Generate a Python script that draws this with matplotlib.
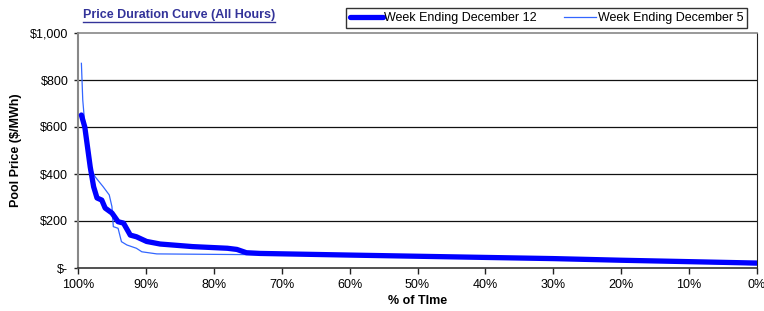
import matplotlib
matplotlib.use("Agg")
import matplotlib.pyplot as plt
from matplotlib.lines import Line2D
from matplotlib.ticker import FuncFormatter

plt.rcParams["font.family"] = ["Liberation Sans", "DejaVu Sans"]

# % of time (duration) and pool price ($/MWh)
pct_dec12 = [99.5, 99.0, 98.2, 97.7, 97.2, 96.5, 96.0, 95.0, 94.1, 93.3, 92.3, 91.4,
             89.9, 87.9, 83.1, 78.0, 76.6, 75.2, 73.2, 60, 50, 40, 30, 20, 10, 0]
price_dec12 = [651, 600, 430, 346, 298, 289, 255, 234, 197, 191, 140, 133,
               113, 102, 91, 84, 79, 65, 62, 55, 50, 45, 40, 33, 27, 21]

pct_dec5 = [99.5, 99.3, 98.8, 98.2, 97.5, 96.3, 95.4, 95.0, 94.8, 94.1, 93.6, 92.8,
            91.4, 90.6, 88.4, 80, 75, 60, 50, 40, 30, 20, 10, 0]
price_dec5 = [871, 715, 545, 431, 389, 346, 311, 261, 176, 169, 112, 98,
              84, 69, 60, 58, 57, 52, 48, 44, 38, 30, 22, 14]

title = "Price Duration Curve (All Hours)"
label_dec12 = "Week Ending December 12"
label_dec5 = "Week Ending December 5"

fig = plt.figure(figsize=(7.64, 3.11), dpi=100)
ax = fig.add_axes([78 / 764, 1 - 268 / 311, (757 - 78) / 764, (268 - 33) / 311])

ax.plot(pct_dec12, price_dec12, color="#0000ff", lw=3.8, solid_capstyle="round",
        label=label_dec12, zorder=3)
ax.plot(pct_dec5, price_dec5, color="#3366ff", lw=0.9, label=label_dec5, zorder=2)

ax.set_xlim(100, 0)
ax.set_ylim(0, 1000)
ax.set_xticks(range(100, -1, -10))
ax.xaxis.set_major_formatter(FuncFormatter(lambda v, p: f"{int(round(v))}%"))
ax.set_yticks(range(0, 1001, 200))
ax.yaxis.set_major_formatter(FuncFormatter(lambda v, p: "$-" if v == 0 else f"${int(v):,}"))
ax.tick_params(axis="x", direction="out", length=4, width=1, labelsize=9, pad=4, color="#222222")
ax.tick_params(axis="y", direction="out", length=3, width=1, labelsize=9, pad=4, color="#222222")

for y in range(200, 1000, 200):
    ax.axhline(y, color="#111111", lw=0.9, zorder=1)

ax.spines["left"].set_color("#888888")
ax.spines["left"].set_linewidth(1.5)
ax.spines["top"].set_color("#888888")
ax.spines["top"].set_linewidth(1.2)
ax.spines["right"].set_color("#222222")
ax.spines["bottom"].set_color("#333333")
ax.spines["bottom"].set_linewidth(1.2)

ax.set_ylabel("Pool Price ($/MWh)", fontsize=9, fontweight="bold", labelpad=6)
ax.set_xlabel("% of TIme", fontsize=9, fontweight="bold", labelpad=3)

# title with underline
t = fig.text(83 / 764, 1 - 15 / 311, title, fontsize=9, fontweight="bold",
             color="#333399", ha="left", va="center")
fig.canvas.draw()
bb = t.get_window_extent(fig.canvas.get_renderer()).transformed(fig.transFigure.inverted())
fig.add_artist(Line2D([bb.x0, bb.x1], [bb.y0 - 0.004, bb.y0 - 0.004],
                      transform=fig.transFigure, color="#333399", lw=1))

leg = fig.legend(loc="upper left", bbox_to_anchor=(340 / 764, 1 - 2 / 311), ncol=2,
                 fontsize=9, frameon=True, fancybox=False, handlelength=2.6,
                 handletextpad=0.1, columnspacing=2.2, borderpad=0.3)
leg.get_frame().set_edgecolor("black")
leg.get_frame().set_linewidth(1)

fig.savefig("out.png", dpi=100)
